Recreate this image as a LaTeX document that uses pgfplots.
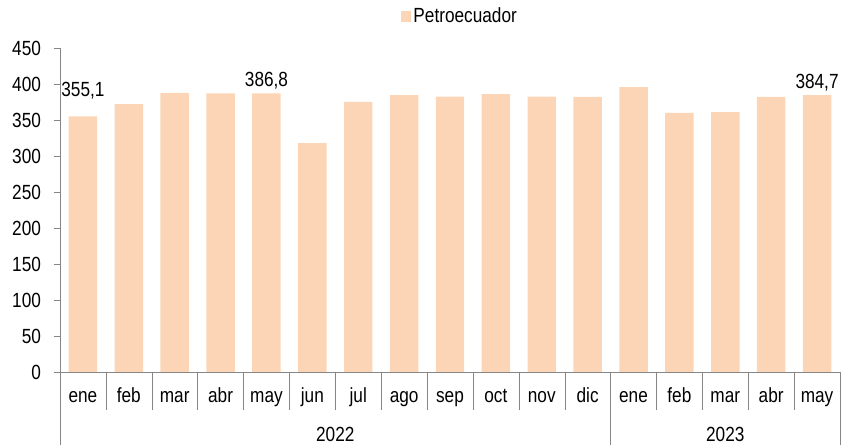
\documentclass[border=0pt]{standalone}
\usepackage{fontspec}
\setmainfont{Liberation Sans}[FakeStretch=0.84]
\usepackage{pgfplots}
\pgfplotsset{compat=1.18}
\definecolor{barc}{RGB}{251,213,181}
\definecolor{axc}{RGB}{134,134,134}
\newcommand{\lbl}{\fontsize{20.5}{23}\selectfont}
\begin{document}
\lbl
\begin{tikzpicture}
\begin{axis}[name=ax,
  scale only axis, width=780pt, height=324pt,
  xmin=-0.5, xmax=16.5, ymin=0, ymax=450,
  enlargelimits=false, clip=false,
  axis lines*=left,
  axis line style={axc},
  ytick={0,50,...,450},
  ytick style={axc}, tick align=outside, major tick length=6pt,
  yticklabel style={xshift=-6pt},
  xtick={0,...,16},
  xticklabels={ene,feb,mar,abr,may,jun,jul,ago,sep,oct,nov,dic,ene,feb,mar,abr,may},
  xtick style={draw=none},
  xticklabel style={yshift=-3pt, text height=14.5pt, text depth=4pt},
  ticklabel style={font=\lbl},
  /pgf/number format/assume math mode=true,
  legend style={at={(0.513,1)}, anchor=south, yshift=18pt, draw=none,
    font=\lbl},
  legend image code/.code={\fill[barc] (0pt,-5pt) rectangle (10pt,5.5pt);},
]
% bars with three value labels (the first one sits higher)
\addplot[ybar, bar width=0.62, fill=barc, draw=none,
  nodes near coords, point meta=explicit symbolic,
  every node near coord/.append style={font=\lbl, anchor=base, yshift=7pt}]
  coordinates {
  (0,355.1) [\raisebox{13pt}{355,1}]
  (1,372.2) []
  (2,387.5) []
  (3,387.0) []
  (4,386.8) [386,8]
  (5,318.0) []
  (6,375.0) []
  (7,384.7) []
  (8,382.4) []
  (9,386.0) []
  (10,382.4) []
  (11,382.0) []
  (12,395.8) []
  (13,360.0) []
  (14,361.0) []
  (15,382.0) []
  (16,384.7) [384,7]
  };
\addlegendentry{Petroecuador}
\pgfplotsinvokeforeach{-0.5,0.5,...,16.5}{\draw[axc] (axis cs:#1,0) -- ++(0pt,-38pt);}
\draw[axc] (axis cs:-0.5,0) -- ++(0pt,-73pt);
\draw[axc] (axis cs:11.5,0) -- ++(0pt,-73pt);
\draw[axc] (axis cs:16.5,0) -- ++(0pt,-73pt);
\node[anchor=base] at ([yshift=-70pt]axis cs:5.5,0) {2022};
\node[anchor=base] at ([yshift=-70pt]axis cs:14,0) {2023};
\end{axis}
\pgfresetboundingbox
\path ([shift={(-60pt,-73pt)}]ax.south west) rectangle ([shift={(3pt,48pt)}]ax.north east);
\end{tikzpicture}
\end{document}
